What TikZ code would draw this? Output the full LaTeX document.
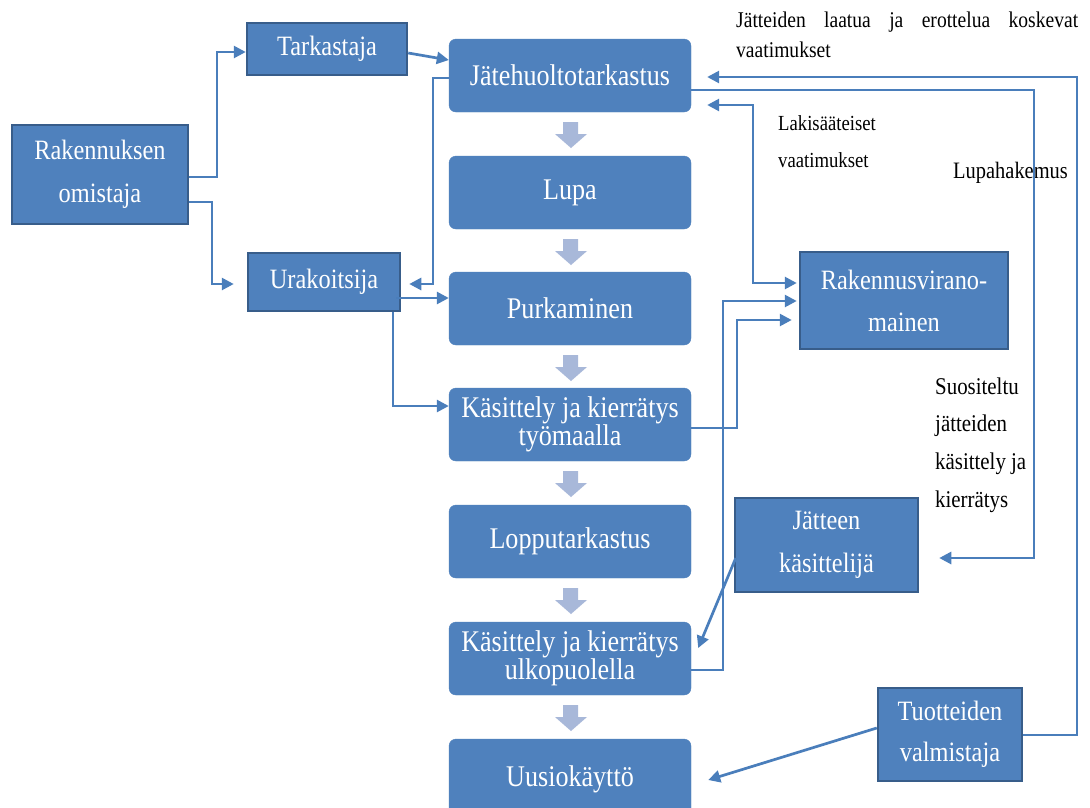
\documentclass[tikz,border=0pt]{standalone}
\usepackage{fontspec}
\setmainfont{Liberation Serif}[FakeStretch=0.87]
\usetikzlibrary{arrows.meta}
\definecolor{boxblue}{HTML}{4F81BD}
\definecolor{boxdark}{HTML}{385D8A}
\definecolor{linkblue}{HTML}{4A7EBB}
\definecolor{flowarrow}{HTML}{A8B8D9}
\tikzset{
  sidebox/.style={draw=boxdark, line width=2.5pt, fill=boxblue, text=white, align=center, inner sep=0pt},
  flowbox/.style={fill=boxblue, draw=boxblue, rounded corners=7pt, text=white, align=center,
    minimum width=242pt, minimum height=73pt, inner sep=0pt, font=\fontsize{30}{27}\selectfont},
  tip/.style={-{Triangle[length=12pt,width=12pt]}},
  conn/.style={draw=linkblue, line width=2.7pt, tip},
  both/.style={draw=linkblue, line width=2.7pt, {Triangle[length=12pt,width=12pt]}-{Triangle[length=12pt,width=12pt]}},
  lbl/.style={anchor=west, inner sep=0pt, text=black, align=left},
  blockarrow/.style={fill=flowarrow, draw=none}
}
\begin{document}
\begin{tikzpicture}[x=1pt,y=-1pt]
\useasboundingbox (0,0) rectangle (1090,807);
\fill[white] (0,0) rectangle (1090,807);

% side boxes
\node[sidebox, minimum width=176pt, minimum height=99pt, font=\fontsize{28}{43}\selectfont] (omist) at (100,174.5) {Rakennuksen\\omistaja};
\node[sidebox, minimum width=160pt, minimum height=52pt, font=\fontsize{28}{30}\selectfont] (tark) at (327,49) {Tarkastaja};
\node[sidebox, minimum width=152pt, minimum height=58pt, font=\fontsize{28}{30}\selectfont] (urak) at (324,282) {\raisebox{4pt}{Urakoitsija}};
\node[sidebox, minimum width=208pt, minimum height=97pt, font=\fontsize{28}{42}\selectfont] (virano) at (904,300.5) {Rakennusvirano-\\mainen};
\node[sidebox, minimum width=183pt, minimum height=94pt, font=\fontsize{28}{43}\selectfont] (jatteen) at (826.5,545) {Jätteen\\käsittelijä};
\node[sidebox, minimum width=144pt, minimum height=93pt, font=\fontsize{28}{41}\selectfont] (tuot) at (950,734.5) {Tuotteiden\\valmistaja};

% flow column
\node[flowbox] (j1) at (570,75.5) {Jätehuoltotarkastus};
\node[flowbox] (j2) at (570,192.5) {Lupa};
\node[flowbox] (j3) at (570,308.5) {Purkaminen};
\node[flowbox] (j4) at (570,424.5) {Käsittely ja kierrätys\\työmaalla};
\node[flowbox] (j5) at (570,541.5) {Lopputarkastus};
\node[flowbox] (j6) at (570,658.5) {Käsittely ja kierrätys\\ulkopuolella};
\node[flowbox, minimum height=80pt] (j7) at (570,779) {Uusiokäyttö};

% block arrows between flow boxes
\foreach \y in {122,239,355,471,588,705}{
  \fill[blockarrow] (563,\y) -- (578,\y) -- (578,\y+12) -- (587,\y+12) -- (571,\y+26) -- (555,\y+12) -- (563,\y+12) -- cycle;
}

% labels
\node[lbl, font=\fontsize{22.5}{24}\selectfont] (l1) at (736,22) {\makebox[342pt][s]{Jätteiden laatua ja erottelua koskevat}};
\node[lbl, font=\fontsize{22.5}{24}\selectfont] (l2) at (736,50) {vaatimukset};
\node[lbl, font=\fontsize{21.5}{24}\selectfont] (l3) at (778,123) {Lakisääteiset};
\node[lbl, font=\fontsize{21.5}{24}\selectfont] (l4) at (778,160) {vaatimukset};
\node[lbl, font=\fontsize{23.5}{24}\selectfont] (l5) at (953,173) {Lupahakemus};
\node[lbl, font=\fontsize{24}{37.7}\selectfont] (l6) at (935,445) {Suositeltu\\jätteiden\\käsittely ja\\kierrätys};

% connectors
\draw[conn] (omist.east |- 0,177) -- (217,177) -- (217,52) -- (tark.west |- 0,52);
\draw[conn] (omist.east |- 0,202) -- (212,202) -- (212,284) -- ([xshift=-13pt]urak.west |- 0,284);
\draw[conn] (tark.east |- 0,53) -- (j1.west |- 0,60);
\draw[conn] (j1.west |- 0,78) -- (433,78) -- (433,284) -- ([xshift=8pt]urak.east |- 0,284);
\draw[conn] ([xshift=-5pt]urak.east |- 0,298) -- (j3.west |- 0,298);
\draw[conn] ([xshift=69pt]urak.south) -- (393,406) -- (j4.west |- 0,406);
\draw[both] ([xshift=16pt]j1.east |- 0,105) -- (753,105) -- (753,283) -- ([xshift=-2pt]virano.west |- 0,283);
\draw[conn] (j6.east |- 0,670) -- (723,670) -- (723,301) -- ([xshift=-2pt]virano.west |- 0,301);
\draw[conn] (j4.east |- 0,428) -- (737,428) -- (737,320) -- ([xshift=-7pt]virano.west |- 0,320);
\draw[conn] ([xshift=2pt]jatteen.west |- 0,558) -- ([xshift=7pt]j6.east |- 0,648);
\draw[conn] (j1.east |- 0,90) -- (1034,90) -- (1034,558) -- ([xshift=20pt]jatteen.east |- 0,558);
\draw[conn] (tuot.east |- 0,735) -- (1077,735) -- (1077,77) -- ([xshift=16pt]j1.east |- 0,77);
\draw[conn] (tuot.west |- 0,728) -- ([xshift=17pt]j7.east |- 0,780);
\end{tikzpicture}
\end{document}
